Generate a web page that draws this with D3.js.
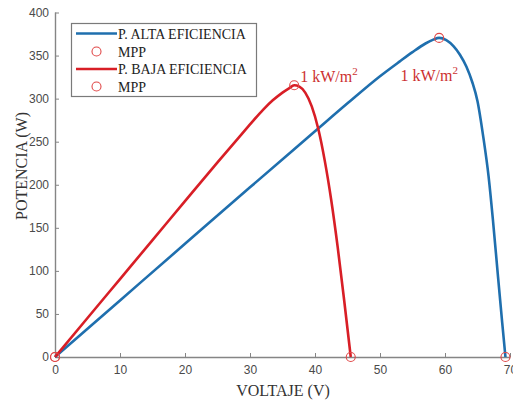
<!DOCTYPE html>
<html><head><meta charset="utf-8">
<script src="https://cdn.jsdelivr.net/npm/d3@7"></script>
<style>html,body{margin:0;padding:0;background:#fff;}svg{display:block;}</style>
</head><body>
<svg id="c" width="513" height="401"></svg>
<script>
// Data
const xTicks = [0, 10, 20, 30, 40, 50, 60, 70];
const yTicks = [0, 50, 100, 150, 200, 250, 300, 350, 400];
const altaV = [0, 10, 20, 30, 40, 45, 50, 53, 55, 57, 58.2, 59.1, 60.2, 61.3, 62.3, 63.3, 64.2, 65, 65.9, 66.7, 67.4, 68.1, 68.8, 69.3];
const altaP = [0, 65.7, 131.4, 197, 262, 294.5, 326, 343, 354, 364, 368.5, 370.5, 368, 361, 351, 337, 319, 297, 255, 210, 157, 98, 40, 0];
const bajaV = [0, 5, 10, 15, 20, 25, 28, 30, 32, 33.5, 35, 36, 36.8, 37.6, 38.5, 39.5, 40.5, 41.5, 42.5, 43.5, 44.5, 45.5];
const bajaP = [0, 45.3, 90.5, 135.7, 181, 226, 252.5, 270, 287, 298, 307, 312, 315.5, 314, 307, 291, 265, 228, 182, 127, 65, 0];
const altaMppV = [0, 59.1, 69.3];
const altaMppP = [0, 370.5, 0];
const bajaMppV = [0, 36.8, 45.5];
const bajaMppP = [0, 315.5, 0];
const legendLabels = ["P. ALTA EFICIENCIA", "MPP", "P. BAJA EFICIENCIA", "MPP"];
const irradianceLabel = "1 kW/m";

const BLUE = "#1f6fae", RED = "#d81e26", MRK = "#e04848", TXT = "#cc3030";
const SERIF = "'Liberation Serif', 'Times New Roman', serif";
const SANS = "'Liberation Sans', Arial, sans-serif";
const svg = d3.select("#c");
const x = d3.scaleLinear().domain([0, 70]).range([55, 510]);
const y = d3.scaleLinear().domain([0, 400]).range([357, 12.5]);

// axes
const gx = svg.append("g").attr("transform", `translate(0,${y(0)})`)
  .call(d3.axisBottom(x).tickValues(xTicks).tickSizeInner(-4).tickSizeOuter(0).tickPadding(8));
const gy = svg.append("g").attr("transform", `translate(${x(0)},0)`)
  .call(d3.axisLeft(y).tickValues(yTicks).tickSizeInner(-4).tickSizeOuter(0).tickPadding(6));
[gx, gy].forEach(g => {
  g.select(".domain").attr("stroke", "#858585").attr("stroke-width", 1.4);
  g.selectAll(".tick line").attr("stroke", "#858585").attr("stroke-width", 1);
  g.selectAll(".tick text").attr("fill", "#4a4a4a").style("font-family", SANS).style("font-size", "12px");
});
gy.select(".domain").attr("d", `M0.5,${y(0)}V${y(400)}`);

const line = d3.line().x(d => x(d[0])).y(d => y(d[1])).curve(d3.curveMonotoneX);
const alta = altaV.map((v, i) => [v, altaP[i]]);
const baja = bajaV.map((v, i) => [v, bajaP[i]]);

svg.append("path").datum(alta).attr("d", line).attr("fill", "none").attr("stroke", BLUE).attr("stroke-width", 2.6).attr("stroke-linejoin", "round");
svg.selectAll("circle.ma").data(altaMppV.map((v, i) => [v, altaMppP[i]])).enter().append("circle")
  .attr("cx", d => x(d[0])).attr("cy", d => y(d[1])).attr("r", 4.5).attr("fill", "none").attr("stroke", MRK).attr("stroke-width", 1.1);
svg.append("path").datum(baja).attr("d", line).attr("fill", "none").attr("stroke", RED).attr("stroke-width", 2.6).attr("stroke-linejoin", "round");
svg.selectAll("circle.mb").data(bajaMppV.map((v, i) => [v, bajaMppP[i]])).enter().append("circle")
  .attr("cx", d => x(d[0])).attr("cy", d => y(d[1])).attr("r", 4.5).attr("fill", "none").attr("stroke", MRK).attr("stroke-width", 1.1);

// irradiance annotations
function irr(px, py, anchor) {
  const t = svg.append("text").attr("x", px).attr("y", py).attr("text-anchor", anchor)
    .attr("fill", TXT).style("font-family", SERIF).style("font-size", "16px");
  t.append("tspan").text(irradianceLabel);
  t.append("tspan").attr("dy", -7).style("font-size", "11px").text("2");
}
irr(x(bajaMppV[1]) + 6, y(bajaMppP[1]) - 3, "start");
irr(x(altaMppV[1]) - 10, y(altaMppP[1]) + 43, "middle");

// axis labels
svg.append("text").attr("x", 283).attr("y", 396).attr("text-anchor", "middle").attr("fill", "#333")
  .style("font-family", SERIF).style("font-size", "16px").text("VOLTAJE (V)");
svg.append("text").attr("transform", "translate(27,166) rotate(-90)").attr("text-anchor", "middle").attr("fill", "#333")
  .style("font-family", SERIF).style("font-size", "16px").text("POTENCIA (W)");

// legend
const lg = svg.append("g");
lg.append("rect").attr("x", 71.5).attr("y", 23.5).attr("width", 185).attr("height", 73)
  .attr("fill", "#fff").attr("stroke", "#7a7a7a").attr("stroke-width", 1.2);
const rowsY = [33.5, 51.5, 69, 86.5];
legendLabels.forEach((lab, i) => {
  const yy = rowsY[i];
  if (i % 2 === 0) {
    lg.append("line").attr("x1", 76).attr("x2", 117).attr("y1", yy).attr("y2", yy)
      .attr("stroke", i === 0 ? BLUE : RED).attr("stroke-width", 2.6);
  } else {
    lg.append("circle").attr("cx", 96.5).attr("cy", yy).attr("r", 4.5).attr("fill", "none").attr("stroke", MRK).attr("stroke-width", 1.1);
  }
  lg.append("text").attr("x", 118).attr("y", yy + 5).attr("fill", "#222")
    .style("font-family", SERIF).style("font-size", "14px").text(lab);
});
</script>
</body></html>
